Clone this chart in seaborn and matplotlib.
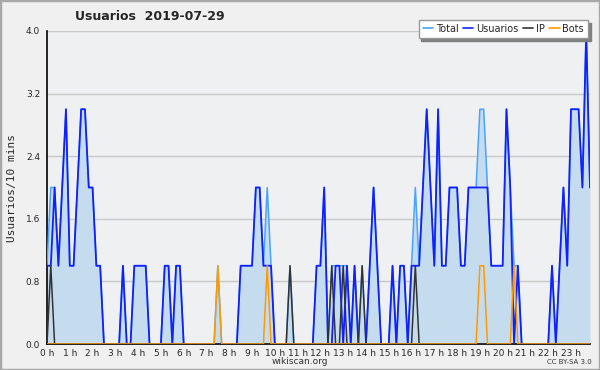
import numpy as np
import pandas as pd
import matplotlib
matplotlib.use("Agg")
import matplotlib.pyplot as plt
import seaborn as sns
from matplotlib.patches import Rectangle
from matplotlib.ticker import MultipleLocator, FixedLocator

# ---- data (10-minute slots, 144 per day) ----
usuarios = [1, 1, 2, 1, 2, 3, 1, 1, 2, 3, 3, 2, 2, 1, 1, 0, 0, 0, 0, 0,
            1, 0, 0, 1, 1, 1, 1, 0, 0, 0, 0, 1, 1, 0, 1, 1, 0, 0, 0, 0,
            0, 0, 0, 0, 0, 0, 0, 0, 0, 0, 0, 1, 1, 1, 1, 2, 2, 1, 1, 1,
            0, 0, 0, 0, 0, 0, 0, 0, 0, 0, 0, 1, 1, 2, 0, 0, 1, 1, 0, 1,
            0, 1, 0, 0, 0, 1, 2, 1, 0, 0, 0, 1, 0, 1, 1, 0, 1, 1, 1, 2,
            3, 2, 1, 3, 1, 1, 2, 2, 2, 1, 1, 2, 2, 2, 2, 2, 2, 1, 1, 1,
            1, 3, 2, 0, 1, 0, 0, 0, 0, 0, 0, 0, 0, 1, 0, 1, 2, 1, 3, 3,
            3, 2, 4, 2]
ip_slots = [1, 64, 75, 78, 83, 97]
bot_slots = [45, 58, 114, 115, 123]
ip = [1 if k in ip_slots else 0 for k in range(144)]
bots = [1 if k in bot_slots else 0 for k in range(144)]
total = [u + a + b for u, a, b in zip(usuarios, ip, bots)]
hour_labels = [f"{h} h" for h in range(24)]

df = pd.DataFrame({"slot": np.arange(144), "Total": total, "Usuarios": usuarios,
                   "IP": ip, "Bots": bots})

sns.set_style("white")
plt.rcParams["font.family"] = ["DejaVu Sans"]

bg = "#f0f0f0"
fig = plt.figure(figsize=(6.0, 3.7), dpi=100, facecolor=bg)
ax = fig.add_axes([47 / 600, 26 / 370, 543 / 600, 313 / 370])
ax.set_facecolor("#eef0f1")

ax.fill_between(df["slot"], df["Total"], 0, color="#c5dcef", lw=0, zorder=1)
sns.lineplot(data=df, x="slot", y="Total", ax=ax, color="#4aa3ff", lw=1.1, label="Total", zorder=3)
sns.lineplot(data=df, x="slot", y="Usuarios", ax=ax, color="#1020ff", lw=1.3, label="Usuarios", zorder=4)
sns.lineplot(data=df, x="slot", y="IP", ax=ax, color="#333333", lw=1.1, label="IP", zorder=5)
sns.lineplot(data=df, x="slot", y="Bots", ax=ax, color="#ff9a00", lw=1.1, label="Bots", zorder=6)

ax.set_xlim(0, 143)
ax.set_ylim(0, 4.0)
ax.yaxis.set_major_locator(FixedLocator([0, 0.8, 1.6, 2.4, 3.2, 4.0]))
ax.set_yticklabels(["0.0", "0.8", "1.6", "2.4", "3.2", "4.0"])
ax.yaxis.set_minor_locator(MultipleLocator(0.2))
ax.set_xticks([6 * h for h in range(24)])
ax.set_xticklabels(hour_labels)
ax.xaxis.set_minor_locator(MultipleLocator(1))
ax.tick_params(axis="y", which="major", direction="out", length=4, width=1,
               labelsize=6.5, pad=1, color="black")
ax.tick_params(axis="x", which="major", direction="out", length=3, width=1,
               labelsize=6.5, pad=0.5, color="black")
ax.tick_params(axis="both", which="minor", direction="out", length=3, width=1, color="black")
ax.grid(axis="y", which="major", color="#c8c8c8", lw=1, zorder=0)
ax.set_axisbelow(True)
for s in ("top", "right"):
    ax.spines[s].set_visible(False)
for s in ("left", "bottom"):
    ax.spines[s].set_color("black")
    ax.spines[s].set_linewidth(1.2)
ax.set_xlabel("")
ax.set_ylabel("Usuarios/10 mins", family="DejaVu Sans Mono", fontsize=8, labelpad=6)

leg = ax.legend(loc="upper right", bbox_to_anchor=(588 / 600, 1 - 20 / 370), bbox_transform=fig.transFigure,
                ncol=4, fontsize=7, frameon=True, fancybox=False,
                shadow={"color": "#808080", "alpha": 1, "ox": 1.5, "oy": -1.5} if False else {"color": "#808080", "alpha": 1},
                handlelength=1.1, handletextpad=0.3, columnspacing=0.4, borderpad=0.4,
                borderaxespad=0)
leg.get_frame().set_edgecolor("#999999")
leg.get_frame().set_facecolor("white")
leg.get_frame().set_linewidth(1)
for line in leg.get_lines():
    line.set_linewidth(1.2)

fig.text(75 / 600, 1 - 16 / 370, "Usuarios  2019-07-29", fontsize=9, fontweight="bold", va="center", ha="left")
fig.text(300 / 600, 1 - 362 / 370, "wikiscan.org", fontsize=6.5, va="center", ha="center", color="#333333")
fig.text(592 / 600, 1 - 362 / 370, "CC BY-SA 3.0", fontsize=5, va="center", ha="right", color="#333333")

fig.patches.append(Rectangle((0, 0), 1, 1, transform=fig.transFigure, fill=False,
                             edgecolor="#a8a8a8", lw=2.5))

fig.savefig("out.png", dpi=100, facecolor=bg)
